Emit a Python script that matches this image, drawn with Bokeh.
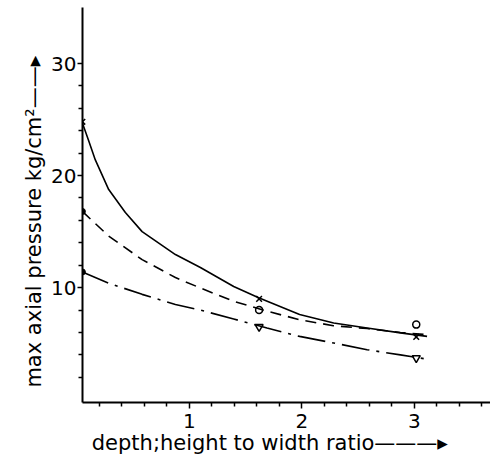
from bokeh.plotting import figure
from bokeh.models import FixedTicker, Range1d
from bokeh.embed import file_html
from bokeh.resources import INLINE

# --- data ---
solid_x = [0.049, 0.105, 0.164, 0.283, 0.431, 0.58, 0.876, 1.098, 1.394, 1.616, 1.98, 2.283, 2.58, 2.876, 3.113]
solid_y = [24.7, 23.1, 21.4, 18.75, 16.7, 15.0, 12.95, 11.8, 10.1, 9.1, 7.6, 6.85, 6.4, 5.96, 5.65]

dashed_x = [0.049, 0.283, 0.58, 0.876, 1.098, 1.394, 1.69, 1.98, 2.28, 2.58, 2.876, 3.113]
dashed_y = [16.8, 14.6, 12.5, 10.9, 9.97, 8.78, 7.9, 7.14, 6.6, 6.35, 6.0, 5.8]

dashdot_x = [0.049, 0.283, 0.58, 0.876, 1.098, 1.394, 1.69, 1.98, 2.283, 2.58, 2.876, 3.142]
dashdot_y = [11.4, 10.4, 9.4, 8.5, 8.0, 7.2, 6.4, 5.65, 5.06, 4.46, 4.0, 3.57]

cross_x = [0.049, 1.62, 3.017]
cross_y = [24.8, 9.0, 5.6]
ring_x = [1.62, 3.017]
ring_y = [8.0, 6.7]
tri_x = [1.62, 3.017]
tri_y = [6.5, 3.72]
dot_x = [0.049, 0.049]
dot_y = [16.8, 11.4]

y_major = [10, 20, 30]
y_minor = [2, 4, 6, 8, 12, 14, 16, 18, 22, 24, 26, 28]
x_major = [1, 2, 3]
x_minor = [0.2, 0.4, 0.6, 0.8, 1.2, 1.4, 1.6, 1.8, 2.2, 2.4, 2.6, 2.8, 3.2, 3.4, 3.6]

PAD = "\u00a0" * 5
x_label = "depth;height to width ratio" + "\u2014\u2014\u2014\u25b8" + PAD
y_label = "max axial pressure kg/cm\u00b2" + "\u2014\u2014\u25b8" + PAD

FONT = "DejaVu Sans"

p = figure(frame_width=408, frame_height=395,
           x_range=Range1d(0.05, 3.677), y_range=Range1d(-0.25, 35.0),
           min_border_left=82, min_border_right=0, min_border_top=7, min_border_bottom=58,
           output_backend="svg", toolbar_location=None)
p.outline_line_color = None
p.xgrid.visible = False
p.ygrid.visible = False
p.background_fill_color = "white"
p.border_fill_color = "white"

for ax in (p.xaxis[0], p.yaxis[0]):
    ax.axis_line_width = 2
    ax.axis_line_color = "black"
    ax.major_tick_in = 0
    ax.minor_tick_in = 0
    ax.major_tick_line_width = 1.5
    ax.minor_tick_line_width = 1.5
    ax.major_label_text_font = FONT
    ax.major_label_text_font_size = "20px"
    ax.major_label_text_color = "black"
    ax.axis_label_text_font = FONT
    ax.axis_label_text_font_size = "21px"
    ax.axis_label_text_font_style = "normal"
    ax.axis_label_text_color = "black"

p.yaxis.ticker = FixedTicker(ticks=y_major, minor_ticks=y_minor)
p.yaxis.major_tick_out = 5
p.yaxis.minor_tick_out = 4
p.yaxis.major_label_standoff = 1
p.yaxis.axis_label = y_label
p.yaxis.axis_label_standoff = 2
p.xaxis.ticker = FixedTicker(ticks=x_major, minor_ticks=x_minor)
p.xaxis.major_tick_out = 6
p.xaxis.minor_tick_out = 4
p.xaxis.major_label_standoff = 5
p.xaxis.axis_label = x_label
p.xaxis.axis_label_standoff = 0

p.line(solid_x, solid_y, line_color="black", line_width=1.6)
p.line(dashed_x, dashed_y, line_color="black", line_width=1.6, line_dash="11 7")
p.line(dashdot_x, dashdot_y, line_color="black", line_width=1.6, line_dash="28 7 3 7")

p.scatter(cross_x, cross_y, marker="x", size=8, line_color="black", line_width=1.5)
p.scatter(ring_x, ring_y, marker="circle", size=7, line_color="black", fill_color=None, line_width=1.5)
p.scatter(tri_x, tri_y, marker="inverted_triangle", size=8, line_color="black", fill_color=None, line_width=1.5)
p.scatter(dot_x, dot_y, marker="circle", size=6, line_color="black", fill_color="black")

open("out.html", "w").write(file_html(p, INLINE))
